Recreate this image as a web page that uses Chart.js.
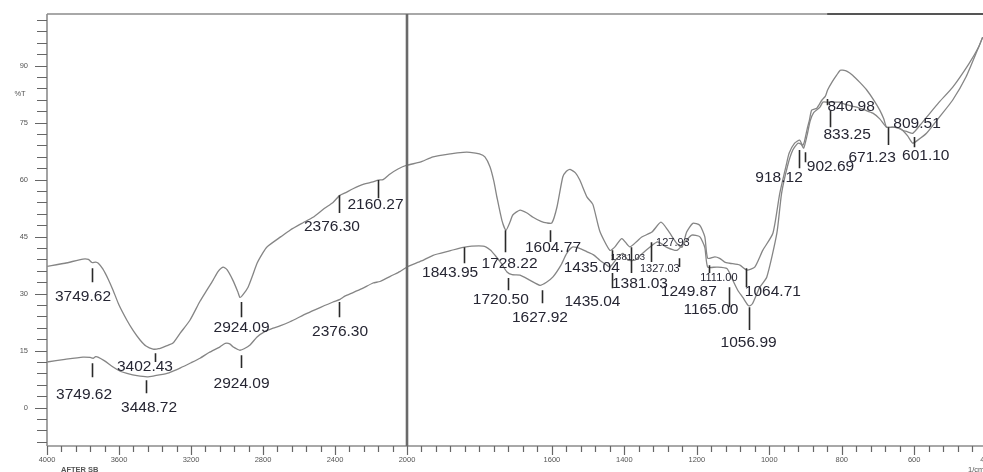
<!DOCTYPE html>
<html><head><meta charset="utf-8">
<script src="https://cdn.jsdelivr.net/npm/chart.js@4.4.0/dist/chart.umd.min.js"></script>
<style>html,body{margin:0;padding:0;background:#fff;overflow:hidden}canvas{display:block}</style>
</head><body>
<canvas id="c" width="983" height="472"></canvas>
<script>
// ---- data (wavenumber in 1/cm, transmittance in %T) ----
const waveA = [4000,3900,3800,3770,3750,3730,3715,3690,3660,3633,3600,3556,3520,3483,3450,3411,3380,3340,3300,3260,3206,3150,3111,3078,3050,3022,3000,2967,2940,2928,2910,2883,2860,2833,2800,2778,2700,2650,2580,2522,2460,2411,2375,2340,2300,2240,2189,2160,2133,2100,2050,2000,1964,1928,1880,1845,1826,1800,1785,1771,1760,1752,1738,1727,1715,1708,1688,1670,1652,1630,1614,1600,1586,1570,1560,1550,1535,1523,1503,1487,1468,1440,1426,1407,1385,1365,1352,1324,1299,1280,1255,1241,1228,1211,1192,1178,1170,1150,1137,1123,1109,1081,1062,1040,1018,990,971,952,945,930,916,908,903,895,889,883,869,855,845,839,826,814,804,797,785,770,750,731,712,695,684,676,660,645,632,618,604,585,566,531,494,449,422,411];
const transA = [37.2,38.0,39.1,39.0,38.2,38.3,38.0,36.5,33.8,30.9,27.0,23.0,20.2,17.8,16.2,15.4,15.5,16.2,17.0,19.6,23.0,28.0,31.0,33.5,35.8,37.0,36.3,33.5,30.5,29.0,29.8,31.7,34.5,38.0,40.8,42.3,45.0,46.7,48.6,50.1,52.4,54.0,55.8,56.6,57.6,58.8,59.4,59.9,60.0,61.3,62.8,63.8,64.6,66.0,66.8,67.2,67.2,66.8,66.0,63.4,59.5,55.5,49.3,46.7,49.0,50.7,52.0,51.3,50.1,49.0,48.6,48.6,52.8,60.7,62.2,62.7,61.8,59.9,55.4,53.5,46.5,41.4,42.3,44.5,42.3,43.8,44.9,46.2,48.8,46.7,43.2,42.2,46.2,48.5,48.0,45.0,39.3,39.7,39.3,38.3,38.0,37.5,36.2,37.0,41.4,45.9,56.4,64.3,67.0,69.6,70.4,69.0,70.0,73.5,75.7,78.3,78.8,80.9,82.0,83.6,85.8,87.5,88.8,88.8,88.5,87.5,85.6,83.6,81.0,78.3,76.0,73.8,73.8,73.6,73.0,72.6,72.2,74.2,76.4,80.4,84.3,90.5,94.9,97.5];
const waveB = [4000,3900,3800,3760,3744,3730,3717,3680,3633,3590,3556,3500,3444,3400,3333,3300,3261,3200,3150,3100,3039,3010,2985,2967,2940,2928,2905,2872,2833,2790,2744,2706,2650,2556,2480,2411,2372,2350,2333,2250,2189,2150,2078,2040,2000,1960,1928,1880,1845,1790,1770,1757,1740,1724,1710,1688,1660,1633,1615,1597,1575,1559,1542,1520,1503,1485,1468,1450,1440,1421,1404,1390,1371,1357,1330,1308,1283,1255,1233,1214,1192,1178,1170,1145,1117,1101,1087,1073,1059,1054,1046,1026,1007,979,966,949,935,921,912,905,896,887,877,860,852,840,820,806,790,770,759,735,714,695,676,660,640,632,618,604,590,566,531,494,457,422,411];
const transB = [12.0,12.7,13.3,13.2,13.0,13.4,13.3,12.3,10.7,9.5,9.0,8.4,8.1,8.4,9.0,9.6,10.4,11.8,13.0,14.5,16.0,16.9,16.8,16.0,15.3,15.1,15.5,16.5,18.6,20.0,20.9,21.5,22.6,24.8,26.4,27.8,28.5,29.2,29.6,31.3,32.8,33.2,34.9,35.8,37.0,38.6,40.1,41.3,42.2,42.5,41.5,40.1,38.0,35.7,35.0,34.9,33.5,32.2,33.0,34.4,37.5,40.6,42.3,41.8,41.0,40.2,38.8,37.6,37.0,39.2,40.6,38.8,38.8,40.0,42.2,43.6,42.2,41.4,43.6,45.4,45.0,42.2,37.0,37.0,36.6,33.6,30.9,29.0,27.0,26.8,27.4,31.7,34.3,45.9,56.4,63.8,67.8,69.6,69.3,68.3,71.5,75.5,77.7,79.1,80.4,80.4,80.4,80.4,79.8,79.3,79.1,78.3,77.5,76.0,73.8,73.8,73.5,73.0,71.5,69.6,70.4,72.2,76.4,80.9,87.0,94.9,97.5];

const xTickLabels = [4000,3600,3200,2800,2400,2000,1600,1400,1200,1000,800,600,400];
const yTickLabels = [0,15,30,45,60,75,90];

// peak labels: text, text centre (wavenumber, %T), marker (wavenumber, from %T, to %T), small font flag
const peakText   = ['3749.62','3749.62','3402.43','3448.72','2924.09','2924.09','2376.30','2160.27','2376.30','1843.95','1728.22','1720.50','1627.92','1604.77','1435.04','1435.04','1381.03','1381.03','1327.03','127.93','1249.87','1165.00','1111.00','1064.71','1056.99','918.12','902.69','840.98','833.25','671.23','809.51','601.10'];
const peakTextX  = [3800,3794,3456,3433,2919,2919,2417,2175,2372,1881,1717,1741,1633,1597,1490,1488,1390,1357,1302,1266,1222,1161,1139,990,1057,973,831,774,785,716,592,568];
const peakTextY  = [29.3,3.3,10.7,-0.1,20.9,6.4,47.5,53.5,19.9,35.4,37.8,28.3,23.6,42.2,36.9,27.8,39.6,32.5,36.4,43.3,30.4,25.7,34.1,30.4,17.0,60.4,63.3,79.1,71.7,65.9,74.6,66.2];
const peakSmall  = [0,0,0,0,0,0,0,0,0,0,0,0,0,0,0,0,2,0,1,1,0,0,1,0,0,0,0,0,0,0,0,0];
const markWave   = [3749.62,3749.62,3402.43,3448.72,2924.09,2924.09,2376.30,2160.27,2376.30,1843.95,1728.22,1720.50,1627.92,1604.77,1435.04,1435.04,null,1381.03,1327.03,null,1249.87,1165.00,1111.00,1064.71,1056.99,918.12,902.69,840.98,833.25,671.23,null,601.10];
const markTop    = [36.7,11.7,14.3,7.2,27.8,13.8,55.9,59.9,27.8,42.2,46.7,34.1,30.9,46.7,41.4,35.4,null,42.2,43.5,null,39.3,37.5,31.7,36.7,26.4,67.8,67.2,81.2,78.3,73.8,null,71.2];
const markBottom = [33.0,8.0,12.0,3.8,23.8,10.4,51.2,55.1,23.8,38.0,40.9,30.9,27.5,43.6,38.8,31.4,null,35.4,38.3,null,37.0,35.4,26.4,31.7,20.4,63.0,64.6,79.6,73.8,69.1,null,68.5];

// ---- split wavenumber scale (4000-2000 compressed, as on FTIR instruments) ----
class SplitScale extends Chart.LinearScale {
  getPixelForValue(v) {
    if (v === null || v === undefined) return NaN;
    const hi = this.max, lo = this.min, brk = 2000, f = 360 / 936;
    let d;
    if (v >= brk) d = (hi - v) / (hi - brk) * f;
    else d = f + (brk - v) / (brk - lo) * (1 - f);
    return this.left + d * this.width;
  }
  getValueForPixel(p) {
    const hi = this.max, lo = this.min, brk = 2000, f = 360 / 936;
    const d = (p - this.left) / this.width;
    if (d <= f) return hi - d / f * (hi - brk);
    return brk - (d - f) / (1 - f) * (brk - lo);
  }
}
SplitScale.id = 'split';
SplitScale.defaults = Chart.LinearScale.defaults;
Chart.register(SplitScale);

const FONT = '"Liberation Sans", Arial, sans-serif';

const frame = {
  id: 'frame',
  afterDatasetsDraw(chart) {
    const ctx = chart.ctx, xs = chart.scales.x, ys = chart.scales.y, a = chart.chartArea;
    ctx.save();
    // frame lines
    ctx.strokeStyle = '#8c8c8c'; ctx.lineWidth = 1.6;
    ctx.beginPath();
    ctx.moveTo(a.left, a.top); ctx.lineTo(a.right, a.top);
    ctx.moveTo(a.left, a.top); ctx.lineTo(a.left, a.bottom);
    ctx.moveTo(a.left, a.bottom); ctx.lineTo(a.right, a.bottom);
    ctx.stroke();
    ctx.strokeStyle = '#3a3a3a'; ctx.lineWidth = 1.4;
    ctx.beginPath();
    ctx.moveTo(xs.getPixelForValue(840), a.top); ctx.lineTo(a.right, a.top);
    ctx.stroke();
    // 2000 divider
    const x2 = xs.getPixelForValue(2000);
    ctx.strokeStyle = '#6a6a6a'; ctx.lineWidth = 2.6;
    ctx.beginPath(); ctx.moveTo(x2, a.top); ctx.lineTo(x2, a.bottom); ctx.stroke();
    // y ticks
    ctx.strokeStyle = '#666'; ctx.lineWidth = 1.2;
    ctx.beginPath();
    for (let v = -9; v <= 102; v += 3) {
      const y = Math.round(ys.getPixelForValue(v)) + 0.5;
      ctx.moveTo(a.left - (v % 15 === 0 ? 12 : 10), y); ctx.lineTo(a.left, y);
    }
    ctx.stroke();
    ctx.fillStyle = '#555'; ctx.font = '7.5px ' + FONT;
    ctx.textAlign = 'right'; ctx.textBaseline = 'middle';
    yTickLabels.forEach(v => ctx.fillText(String(v), a.left - 19, ys.getPixelForValue(v)));
    ctx.textAlign = 'center';
    ctx.fillText('%T', 20, ys.getPixelForValue(82.5));
    // x ticks
    ctx.beginPath();
    for (let w = 4000; w > 2000; w -= 80) {
      const x = Math.round(xs.getPixelForValue(w)) + 0.5;
      const major = xTickLabels.includes(w);
      ctx.moveTo(x, a.bottom); ctx.lineTo(x, a.bottom + (major ? 9 : 6));
    }
    for (let w = 2000; w >= 400; w -= 40) {
      const x = Math.round(xs.getPixelForValue(w)) + 0.5;
      const major = xTickLabels.includes(w);
      ctx.moveTo(x, a.bottom); ctx.lineTo(x, a.bottom + (major ? 9 : 6));
    }
    ctx.stroke();
    ctx.textBaseline = 'middle';
    xTickLabels.forEach(w => ctx.fillText(String(w), xs.getPixelForValue(w), a.bottom + 14));
    ctx.font = 'bold 7.5px ' + FONT; ctx.textAlign = 'left';
    ctx.fillText('AFTER SB', a.left + 14, a.bottom + 24);
    ctx.font = '7.5px ' + FONT;
    ctx.fillText('1/cm', a.right - 15, a.bottom + 24);
    // peak markers
    ctx.strokeStyle = '#2a2a2a'; ctx.lineWidth = 1.6;
    ctx.beginPath();
    markWave.forEach((w, i) => {
      if (w === null) return;
      const x = Math.round(xs.getPixelForValue(w)) + 0.5;
      ctx.moveTo(x, ys.getPixelForValue(markTop[i]));
      ctx.lineTo(x, ys.getPixelForValue(markBottom[i]));
    });
    ctx.stroke();
    // peak texts
    ctx.fillStyle = '#262633'; ctx.textAlign = 'center'; ctx.textBaseline = 'middle';
    peakText.forEach((t, i) => {
      const s = peakSmall[i];
      ctx.font = (s === 2 ? '9.5px ' : s === 1 ? '11px ' : '15.5px ') + FONT;
      ctx.fillText(t, xs.getPixelForValue(peakTextX[i]), ys.getPixelForValue(peakTextY[i]));
    });
    ctx.restore();
  }
};

const toPts = (ws, ts) => ws.map((w, i) => ({x: w, y: ts[i]}));

new Chart(document.getElementById('c'), {
  type: 'line',
  data: {
    datasets: [
      {data: toPts(waveA, transA), borderColor: '#858585', borderWidth: 1.3, pointRadius: 0, tension: 0.2, fill: false},
      {data: toPts(waveB, transB), borderColor: '#858585', borderWidth: 1.3, pointRadius: 0, tension: 0.2, fill: false}
    ]
  },
  options: {
    responsive: false, animation: false, devicePixelRatio: 1,
    layout: {padding: {left: 47, top: 14, right: 0, bottom: 26}},
    plugins: {legend: {display: false}, tooltip: {enabled: false}},
    scales: {
      x: {type: 'split', min: 410, max: 4000, display: false},
      y: {type: 'linear', min: -10.1, max: 103.6, display: false}
    }
  },
  plugins: [frame]
});
</script>
</body></html>
